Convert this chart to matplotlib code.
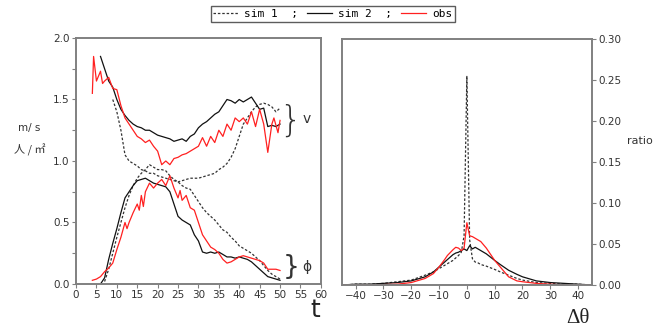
import numpy as np
import matplotlib.pyplot as plt
from matplotlib.lines import Line2D

# ---- left panel: speed v (upper) and density phi (lower) vs t ----
t_obs_v = [4, 4.3, 5, 6, 6.5, 7, 8, 9, 10, 11, 12, 13, 14, 15, 16, 17, 18, 19, 20, 21,
           22, 23, 24, 25, 26, 27, 28, 29, 30, 31, 32, 33, 34, 35, 36, 37, 38, 39, 40,
           41, 42, 43, 44, 45, 46, 47, 48, 48.5, 49.5, 50]
obs_v = [1.55, 1.85, 1.65, 1.73, 1.63, 1.65, 1.68, 1.59, 1.58, 1.45, 1.35, 1.30, 1.25, 1.20,
         1.18, 1.15, 1.17, 1.12, 1.08, 0.97, 1.00, 0.97, 1.02, 1.03, 1.05, 1.06, 1.08, 1.10,
         1.12, 1.19, 1.12, 1.20, 1.15, 1.25, 1.20, 1.30, 1.25, 1.35, 1.32, 1.35, 1.30, 1.40,
         1.28, 1.42, 1.30, 1.07, 1.30, 1.35, 1.23, 1.33]

t_sim2_v = list(range(6, 51))
sim2_v = [1.85, 1.75, 1.65, 1.60, 1.50, 1.42, 1.37, 1.33, 1.30, 1.28, 1.27, 1.25, 1.25, 1.23,
          1.21, 1.20, 1.19, 1.18, 1.16, 1.17, 1.18, 1.16, 1.20, 1.22, 1.27, 1.30, 1.32, 1.35,
          1.38, 1.40, 1.45, 1.50, 1.49, 1.47, 1.50, 1.48, 1.50, 1.52, 1.47, 1.42, 1.43, 1.28,
          1.29, 1.28, 1.30]

t_sim1_v = list(range(9, 51))
sim1_v = [1.50, 1.40, 1.25, 1.05, 1.00, 0.98, 0.96, 0.93, 0.92, 0.90, 0.90, 0.88, 0.87, 0.86,
          0.85, 0.84, 0.83, 0.84, 0.85, 0.86, 0.86, 0.86, 0.87, 0.88, 0.89, 0.90, 0.93, 0.95,
          0.98, 1.03, 1.10, 1.20, 1.30, 1.35, 1.40, 1.44, 1.46, 1.47, 1.46, 1.44, 1.40, 1.43]

t_obs_p = [4, 5, 6, 7, 8, 9, 10, 11, 12, 12.5, 13, 14, 15, 15.5, 16, 16.5, 17, 18, 19, 20,
           21, 22, 23, 24, 25, 25.5, 26, 27, 28, 29, 30, 31, 32, 33, 34, 35, 36, 37, 38, 39,
           40, 41, 42, 43, 44, 45, 46, 47, 48, 49, 50]
obs_p = [0.03, 0.04, 0.06, 0.10, 0.13, 0.17, 0.28, 0.38, 0.50, 0.45, 0.50, 0.58, 0.65, 0.60,
         0.72, 0.63, 0.75, 0.82, 0.78, 0.82, 0.85, 0.80, 0.88, 0.78, 0.70, 0.76, 0.68, 0.72,
         0.62, 0.60, 0.50, 0.40, 0.35, 0.30, 0.28, 0.25, 0.20, 0.17, 0.18, 0.20, 0.22, 0.23,
         0.22, 0.21, 0.20, 0.19, 0.17, 0.12, 0.12, 0.12, 0.11]

t_sim2_p = list(range(6, 51))
sim2_p = [0.00, 0.05, 0.20, 0.33, 0.45, 0.58, 0.70, 0.75, 0.80, 0.84, 0.85, 0.86, 0.84, 0.82,
          0.81, 0.80, 0.79, 0.75, 0.65, 0.55, 0.52, 0.50, 0.48, 0.40, 0.35, 0.26, 0.25, 0.26,
          0.25, 0.26, 0.24, 0.22, 0.22, 0.21, 0.22, 0.21, 0.20, 0.18, 0.15, 0.12, 0.09, 0.06,
          0.05, 0.04, 0.03]

t_sim1_p = list(range(7, 51))
sim1_p = [0.02, 0.12, 0.25, 0.38, 0.50, 0.62, 0.72, 0.80, 0.86, 0.90, 0.93, 0.97, 0.95, 0.93,
          0.93, 0.92, 0.88, 0.85, 0.83, 0.80, 0.78, 0.77, 0.72, 0.67, 0.62, 0.58, 0.55, 0.52,
          0.48, 0.44, 0.42, 0.38, 0.35, 0.31, 0.29, 0.27, 0.25, 0.22, 0.19, 0.15, 0.11, 0.08,
          0.06, 0.04]

# ---- right panel: distribution of delta theta ----
dtheta = [-45, -40, -35, -30, -25, -20, -15, -12, -10, -8, -7, -5, -4, -3, -2, -1, 0,
          1, 2, 3, 4, 5, 7, 10, 12, 15, 18, 20, 25, 30, 35, 40, 45]
sim1_r = [0.000, 0.001, 0.001, 0.002, 0.004, 0.006, 0.012, 0.016, 0.020, 0.024, 0.026, 0.030,
          0.033, 0.036, 0.040, 0.060, 0.255, 0.055, 0.032, 0.028, 0.027, 0.025, 0.023, 0.019,
          0.016, 0.012, 0.008, 0.006, 0.003, 0.002, 0.001, 0.001, 0.000]
sim2_r = [0.000, 0.001, 0.001, 0.002, 0.003, 0.005, 0.010, 0.016, 0.022, 0.028, 0.031, 0.037,
          0.039, 0.040, 0.042, 0.044, 0.042, 0.048, 0.044, 0.046, 0.044, 0.042, 0.038, 0.030,
          0.025, 0.018, 0.013, 0.010, 0.005, 0.003, 0.002, 0.001, 0.000]
obs_r = [0.000, 0.000, 0.000, 0.0005, 0.001, 0.003, 0.008, 0.014, 0.022, 0.031, 0.036, 0.043,
         0.046, 0.045, 0.042, 0.045, 0.076, 0.060, 0.059, 0.057, 0.055, 0.053, 0.045, 0.030,
         0.022, 0.010, 0.005, 0.004, 0.002, 0.001, 0.000, 0.000, 0.000]

spine_c = '#808080'
txt_c = '#333333'
plt.rcParams['font.family'] = ['DejaVu Sans']
plt.rcParams['font.size'] = 7.5

fig = plt.figure(figsize=(6.67, 3.29), dpi=100)
ax1 = fig.add_axes([0.114, 0.1368, 0.367, 0.7477])
ax2 = fig.add_axes([0.5123, 0.1337, 0.3753, 0.7477])

lw = 0.9
ax1.plot(t_sim1_v, sim1_v, color='#333333', ls=(0, (2, 1.5)), lw=lw)
ax1.plot(t_sim1_p, sim1_p, color='#333333', ls=(0, (2, 1.5)), lw=lw)
ax1.plot(t_sim2_v, sim2_v, color='#111111', lw=lw)
ax1.plot(t_sim2_p, sim2_p, color='#111111', lw=lw)
ax1.plot(t_obs_v, obs_v, color='#ff2020', lw=lw)
ax1.plot(t_obs_p, obs_p, color='#ff2020', lw=lw)

ax1.set_xlim(0, 60)
ax1.set_ylim(0, 2.0)
ax1.set_xticks(np.arange(0, 61, 5))
ax1.set_yticks([0.0, 0.5, 1.0, 1.5, 2.0])
ax1.set_yticks(np.arange(0.25, 2.0, 0.5), minor=True)
ax1.set_yticklabels(['0.0', '0.5', '1.0', '1.5', '2.0'])

ax2.plot(dtheta, sim1_r, color='#333333', ls=(0, (2, 1.5)), lw=lw)
ax2.plot(dtheta, sim2_r, color='#111111', lw=lw)
ax2.plot(dtheta, obs_r, color='#ff2020', lw=lw)
ax2.set_xlim(-45, 45)
ax2.set_ylim(0, 0.30)
ax2.set_xticks(np.arange(-40, 41, 10))
ax2.set_yticks(np.arange(0, 0.31, 0.05))
ax2.set_yticklabels(['%.2f' % v for v in np.arange(0, 0.31, 0.05)])
ax2.yaxis.tick_right()

for ax in (ax1, ax2):
    for s in ax.spines.values():
        s.set_color(spine_c)
        s.set_linewidth(1.4)
    ax.tick_params(which='both', direction='out', length=3, width=0.8,
                   color=spine_c, labelcolor=txt_c, pad=1.5)

# braces and symbols
ax1.text(52.6, 1.33, '}', fontsize=25, ha='center', va='center', color=txt_c,
         clip_on=False, fontweight='light')
ax1.text(56.5, 1.34, 'v', fontsize=10, ha='center', va='center', color=txt_c, clip_on=False)
ax1.text(52.6, 0.14, '}', fontsize=19, ha='center', va='center', color=txt_c, clip_on=False)
ax1.text(56.5, 0.14, 'ϕ', fontsize=10, ha='center', va='center', color=txt_c, clip_on=False)

fig.text(0.044, 0.611, 'm/ s', fontsize=7.5, ha='center', va='center', color=txt_c)
fig.text(0.044, 0.544, '人 / ㎡', fontsize=8, ha='center', va='center', color=txt_c,
         family=['Noto Sans CJK JP', 'DejaVu Sans'])
fig.text(0.472, 0.058, 't', fontsize=18, ha='center', va='center', color='#222222')
fig.text(0.867, 0.033, 'Δθ', fontsize=15, ha='center', va='center', color='#222222',
         family='Liberation Serif')
fig.text(0.96, 0.571, 'ratio', fontsize=8, ha='center', va='center', color=txt_c)

handles = [Line2D([], [], color='#333333', ls=(0, (2, 1.5)), lw=lw),
           Line2D([], [], color='#111111', lw=lw),
           Line2D([], [], color='#ff2020', lw=lw)]
leg = fig.legend(handles, ['sim 1  ;', 'sim 2  ;', 'obs'], loc='center', ncol=3,
                 bbox_to_anchor=(0.4993, 0.958), frameon=True, fancybox=False,
                 handlelength=2.2, handletextpad=0.6, columnspacing=0.8,
                 borderpad=0.25, prop={'family': 'DejaVu Sans Mono', 'size': 8})
leg.get_frame().set_edgecolor('#333333')
leg.get_frame().set_linewidth(1.0)

fig.savefig('out.png', dpi=100)
